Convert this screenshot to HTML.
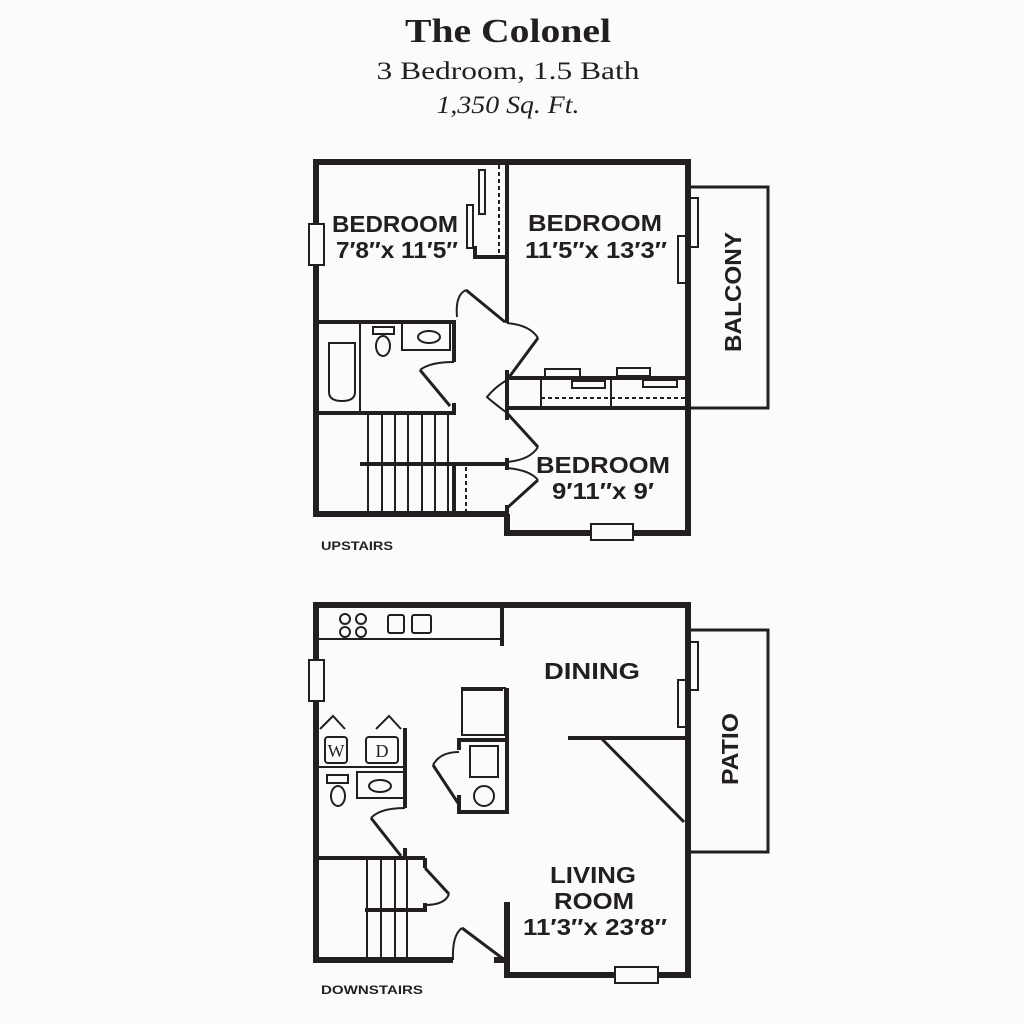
<!DOCTYPE html>
<html><head><meta charset="utf-8"><style>
html,body{margin:0;padding:0;background:#fbfbfb;}
svg{display:block;}
.t{font-family:"Liberation Sans",sans-serif;font-weight:bold;fill:#231f20;}
.s{font-family:"Liberation Serif",serif;fill:#231f20;}
</style></head><body>
<svg width="1024" height="1024" viewBox="0 0 1024 1024" xmlns="http://www.w3.org/2000/svg">
<rect width="1024" height="1024" fill="#fbfbfb"/>
<text class="s" x="508" y="42" font-size="34" font-weight="bold" text-anchor="middle" textLength="206" lengthAdjust="spacingAndGlyphs">The Colonel</text>
<text class="s" x="508" y="79" font-size="25" text-anchor="middle" textLength="263" lengthAdjust="spacingAndGlyphs">3 Bedroom, 1.5 Bath</text>
<text class="s" x="508" y="113" font-size="25" font-style="italic" text-anchor="middle" textLength="143" lengthAdjust="spacingAndGlyphs">1,350 Sq. Ft.</text>

<g fill="none" stroke="#231f20" stroke-linecap="butt">
<path d="M507 514 L316 514 L316 162 L688 162 L688 533 L507 533 L507 514" stroke-width="6"/>
<rect x="688" y="187" width="80" height="221" stroke-width="3"/>
<rect x="309" y="224" width="15" height="41" fill="#fbfbfb" stroke-width="2"/>
<rect x="591" y="524" width="42" height="16" fill="#fbfbfb" stroke-width="2"/>
<rect x="690" y="198" width="8" height="49" fill="#fbfbfb" stroke-width="2"/>
<rect x="678" y="236" width="8" height="47" fill="#fbfbfb" stroke-width="2"/>
<g stroke-width="4">
<line x1="507" y1="162" x2="507" y2="323"/>
<line x1="507" y1="370" x2="507" y2="413"/>
<line x1="507" y1="408" x2="507" y2="420"/>
<line x1="507" y1="458" x2="507" y2="470"/>
<line x1="507" y1="505" x2="507" y2="533"/>
<line x1="316" y1="322" x2="456" y2="322"/>
<line x1="454" y1="322" x2="454" y2="362"/>
<line x1="454" y1="403" x2="454" y2="415"/>
<line x1="316" y1="413" x2="456" y2="413"/>
<line x1="507" y1="378" x2="688" y2="378"/>
<line x1="507" y1="408" x2="688" y2="408"/>
<line x1="360" y1="464" x2="507" y2="464"/>
<line x1="454" y1="464" x2="454" y2="514"/>
<line x1="475" y1="246" x2="475" y2="257"/>
<line x1="473" y1="257" x2="507" y2="257"/>
</g>
<g stroke-width="2">
<line x1="360" y1="322" x2="360" y2="413"/>
<line x1="541" y1="378" x2="541" y2="408"/>
<line x1="611" y1="378" x2="611" y2="408"/>
<line x1="499" y1="165" x2="499" y2="257" stroke-dasharray="4 3"/>
<line x1="541" y1="398" x2="688" y2="398" stroke-dasharray="4 3"/>
<line x1="466" y1="467" x2="466" y2="512" stroke-dasharray="4 3"/>
<rect x="479" y="170" width="6" height="44" fill="#fbfbfb"/>
<rect x="467" y="205" width="6" height="43" fill="#fbfbfb"/>
<rect x="545" y="369" width="35" height="8" fill="#fbfbfb"/>
<rect x="572" y="381" width="33" height="7" fill="#fbfbfb"/>
<rect x="617" y="368" width="33" height="8" fill="#fbfbfb"/>
<rect x="643" y="380" width="34" height="7" fill="#fbfbfb"/>
<line x1="368" y1="413" x2="368" y2="514"/><line x1="382" y1="413" x2="382" y2="514"/>
<line x1="395" y1="413" x2="395" y2="514"/><line x1="408" y1="413" x2="408" y2="514"/>
<line x1="422" y1="413" x2="422" y2="514"/><line x1="435" y1="413" x2="435" y2="514"/>
<line x1="448" y1="413" x2="448" y2="514"/>
<path d="M329 343 L355 343 L355 392 Q355 401 342 401 Q329 401 329 392 Z"/>
<rect x="373" y="327" width="21" height="7"/>
<ellipse cx="383" cy="346" rx="7" ry="10"/>
<rect x="402" y="322" width="48" height="28"/>
<ellipse cx="429" cy="337" rx="11" ry="6"/>
<path d="M457 317 Q455 295 466 290"/>
<path d="M538 338 Q530 325 507 323"/>
<path d="M420 370 Q430 362 454 362"/>
<path d="M507 413 Q490 400 487 397 Q495 387 507 380"/>
<path d="M538 447 Q530 460 507 462"/>
<path d="M538 480 Q530 470 507 468"/>
</g>
<g stroke-width="3">
<line x1="466" y1="290" x2="505" y2="322"/>
<line x1="507" y1="380" x2="538" y2="338"/>
<line x1="420" y1="370" x2="450" y2="406"/>
<line x1="507" y1="413" x2="538" y2="447"/>
<line x1="507" y1="508" x2="538" y2="480"/>
</g>

<path d="M453 960 L316 960 L316 605 L688 605 L688 975 L507 975 L507 902" stroke-width="6"/>
<line x1="494" y1="960" x2="507" y2="960" stroke-width="6"/>
<rect x="688" y="630" width="80" height="222" stroke-width="3"/>
<rect x="309" y="660" width="15" height="41" fill="#fbfbfb" stroke-width="2"/>
<rect x="615" y="967" width="43" height="16" fill="#fbfbfb" stroke-width="2"/>
<rect x="690" y="642" width="8" height="48" fill="#fbfbfb" stroke-width="2"/>
<rect x="678" y="680" width="8" height="47" fill="#fbfbfb" stroke-width="2"/>
<g stroke-width="4">
<line x1="502" y1="605" x2="502" y2="646"/>
<line x1="405" y1="728" x2="405" y2="808"/>
<line x1="405" y1="848" x2="405" y2="860"/>
<line x1="316" y1="858" x2="425" y2="858"/>
<line x1="425" y1="858" x2="425" y2="868"/>
<line x1="425" y1="903" x2="425" y2="912"/>
<line x1="365" y1="910" x2="427" y2="910"/>
<line x1="507" y1="688" x2="507" y2="812"/>
<line x1="459" y1="740" x2="459" y2="750"/>
<line x1="459" y1="795" x2="459" y2="812"/>
<line x1="457" y1="740" x2="507" y2="740"/>
<line x1="457" y1="812" x2="509" y2="812"/>
<line x1="568" y1="738" x2="688" y2="738"/>
</g>
<g stroke-width="2">
<line x1="316" y1="639" x2="502" y2="639"/>
<circle cx="345" cy="619" r="5"/><circle cx="361" cy="619" r="5"/>
<circle cx="345" cy="632" r="5"/><circle cx="361" cy="632" r="5"/>
<rect x="388" y="615" width="16" height="18" rx="2"/>
<rect x="412" y="615" width="19" height="18" rx="2"/>
<line x1="316" y1="767" x2="405" y2="767"/>
<rect x="325" y="737" width="22" height="26" rx="3"/>
<rect x="366" y="737" width="32" height="26" rx="3"/>
<path d="M320 729 L333 716 L345 729"/>
<path d="M376 729 L389 716 L401 729"/>
<rect x="327" y="775" width="21" height="8"/>
<ellipse cx="338" cy="796" rx="7" ry="10"/>
<rect x="357" y="772" width="48" height="26"/>
<ellipse cx="380" cy="786" rx="11" ry="6"/>
<line x1="367" y1="858" x2="367" y2="960"/><line x1="381" y1="858" x2="381" y2="960"/>
<line x1="395" y1="858" x2="395" y2="960"/><line x1="407" y1="858" x2="407" y2="960"/>
<rect x="462" y="688" width="43" height="47"/>
<line x1="462" y1="690" x2="503" y2="690"/>
<rect x="470" y="746" width="28" height="31"/>
<circle cx="484" cy="796" r="10"/>
<path d="M371 818 Q380 808 405 808"/>
<path d="M433 765 Q440 752 459 752"/>
<path d="M449 894 Q445 905 425 905"/>
<path d="M453 960 Q452 935 462 928"/>
<line x1="507" y1="902" x2="507" y2="930" stroke-width="4"/>
</g>
<g stroke-width="3">
<line x1="371" y1="818" x2="401" y2="856"/>
<line x1="433" y1="765" x2="458" y2="803"/>
<line x1="425" y1="868" x2="449" y2="894"/>
<line x1="462" y1="928" x2="502" y2="958"/>
<line x1="601" y1="738" x2="684" y2="822"/>
</g>
</g>
<text class="s" x="336" y="757" font-size="18" text-anchor="middle">W</text>
<text class="s" x="382" y="757" font-size="18" text-anchor="middle">D</text>

<text class="t" x="395" y="232" font-size="23" text-anchor="middle" textLength="126" lengthAdjust="spacingAndGlyphs">BEDROOM</text>
<text class="t" x="397" y="258" font-size="23" text-anchor="middle" textLength="122" lengthAdjust="spacingAndGlyphs">7′8″x 11′5″</text>
<text class="t" x="595" y="231" font-size="23" text-anchor="middle" textLength="134" lengthAdjust="spacingAndGlyphs">BEDROOM</text>
<text class="t" x="596" y="258" font-size="23" text-anchor="middle" textLength="142" lengthAdjust="spacingAndGlyphs">11′5″x 13′3″</text>
<text class="t" x="603" y="473" font-size="23" text-anchor="middle" textLength="134" lengthAdjust="spacingAndGlyphs">BEDROOM</text>
<text class="t" x="603" y="499" font-size="23" text-anchor="middle" textLength="102" lengthAdjust="spacingAndGlyphs">9′11″x 9′</text>
<text class="t" transform="translate(741 292) rotate(-90)" font-size="23" text-anchor="middle" textLength="120" lengthAdjust="spacingAndGlyphs">BALCONY</text>
<text class="t" x="321" y="550" font-size="12" textLength="72" lengthAdjust="spacingAndGlyphs">UPSTAIRS</text>
<text class="t" x="592" y="679" font-size="23" text-anchor="middle" textLength="96" lengthAdjust="spacingAndGlyphs">DINING</text>
<text class="t" transform="translate(738 749) rotate(-90)" font-size="23" text-anchor="middle" textLength="72" lengthAdjust="spacingAndGlyphs">PATIO</text>
<text class="t" x="593" y="883" font-size="23" text-anchor="middle" textLength="86" lengthAdjust="spacingAndGlyphs">LIVING</text>
<text class="t" x="594" y="909" font-size="23" text-anchor="middle" textLength="80" lengthAdjust="spacingAndGlyphs">ROOM</text>
<text class="t" x="595" y="935" font-size="23" text-anchor="middle" textLength="144" lengthAdjust="spacingAndGlyphs">11′3″x 23′8″</text>
<text class="t" x="321" y="994" font-size="12" textLength="102" lengthAdjust="spacingAndGlyphs">DOWNSTAIRS</text>
</svg>
</body></html>
